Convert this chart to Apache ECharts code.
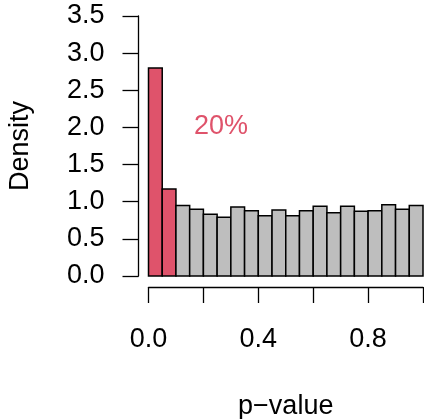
<!DOCTYPE html>
<html>
<head>
<meta charset="utf-8">
<script src="https://cdn.jsdelivr.net/npm/echarts@6/dist/echarts.min.js"></script>
<style>
  html, body { margin: 0; padding: 0; background: #fff; }
  #chart { width: 424px; height: 419px; }
</style>
</head>
<body>
<div id="chart"></div>
<script>
// histogram bins of width 0.05 over [0, 1]
const binStarts = [0, 0.05, 0.1, 0.15, 0.2, 0.25, 0.3, 0.35, 0.4, 0.45, 0.5, 0.55, 0.6, 0.65, 0.7, 0.75, 0.8, 0.85, 0.9, 0.95]
const binWidth = 0.05
const densities = [2.80, 1.17, 0.95, 0.90, 0.83, 0.79, 0.93, 0.88, 0.81, 0.89, 0.81, 0.88, 0.94, 0.85, 0.94, 0.87, 0.88, 0.96, 0.90, 0.95]
const highlightCount = 2 // bins below 0.1
const xTickLabels = ['0.0', '0.4', '0.8']
const annotation = '20%'

const red = '#DF536B'
const grey = '#BEBEBE'
const font = 'Liberation Sans, Arial, Helvetica, sans-serif'

const histData = binStarts.map((s, i) => [s, s + binWidth, densities[i], i < highlightCount ? 1 : 0])

const chart = echarts.init(document.getElementById('chart'), null, { renderer: 'canvas' })

chart.setOption({
  animation: false,
  grid: { left: 148.5, right: 1, top: 16, bottom: 143, containLabel: false, outerBoundsMode: 'none' },
  xAxis: {
    type: 'value',
    min: 0,
    max: 1,
    interval: 0.2,
    offset: 11,
    name: 'p\u2212value',
    nameLocation: 'middle',
    nameGap: 106,
    nameTextStyle: { fontFamily: font, fontSize: 27, color: '#000' },
    axisLine: { show: true, onZero: false, lineStyle: { color: '#000', width: 1.3 } },
    axisTick: { show: true, length: 16, lineStyle: { color: '#000', width: 1.3 } },
    splitLine: { show: false },
    axisLabel: {
      margin: 39,
      fontFamily: font,
      fontSize: 27,
      color: '#000',
      formatter: v => {
        const t = v.toFixed(1)
        return xTickLabels.includes(t) ? t : ''
      }
    }
  },
  yAxis: {
    type: 'value',
    min: 0,
    max: 3.5,
    interval: 0.5,
    offset: 10,
    name: 'Density',
    nameLocation: 'middle',
    nameGap: 104,
    nameRotate: 90,
    nameTextStyle: { fontFamily: font, fontSize: 27, color: '#000' },
    axisLine: { show: true, onZero: false, lineStyle: { color: '#000', width: 1.3 } },
    axisTick: { show: true, length: 16, lineStyle: { color: '#000', width: 1.3 } },
    splitLine: { show: false },
    axisLabel: {
      margin: 34,
      fontFamily: font,
      fontSize: 27,
      color: '#000',
      formatter: v => v.toFixed(1)
    }
  },
  graphic: [{
    type: 'text',
    left: 194,
    top: 113,
    style: { text: annotation, fontFamily: font, fontSize: 27, fill: red }
  }],
  series: [{
    type: 'custom',
    data: histData,
    encode: { x: [0, 1], y: 2 },
    renderItem: (params, api) => {
      const p0 = api.coord([api.value(0), 0])
      const p1 = api.coord([api.value(1), api.value(2)])
      return {
        type: 'rect',
        shape: { x: p0[0], y: p1[1], width: p1[0] - p0[0], height: p0[1] - p1[1] },
        style: { fill: api.value(3) ? red : grey, stroke: '#000', lineWidth: 1.5 }
      }
    }
  }]
})
</script>
</body>
</html>
